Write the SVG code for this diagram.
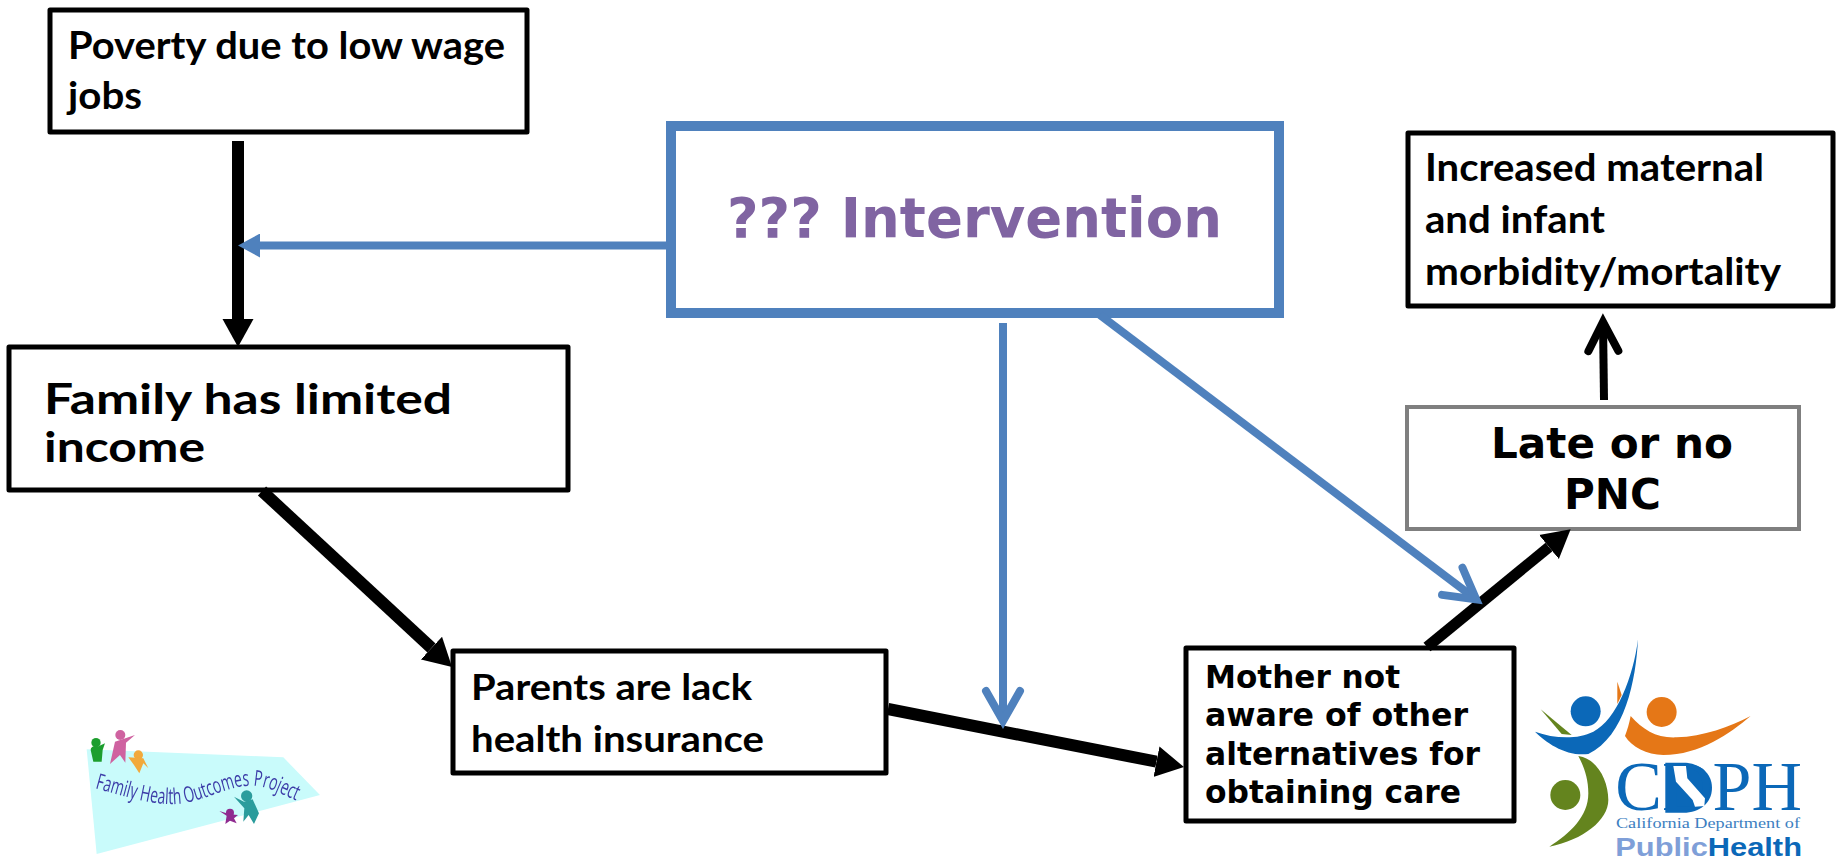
<svg xmlns="http://www.w3.org/2000/svg" width="1843" height="862" viewBox="0 0 1843 862">
<style>
.box{fill:#fff;stroke:#000;stroke-width:5;stroke-linejoin:round}
.cal{font-family:"Lato","Carlito","Open Sans",sans-serif;font-weight:700;fill:#000}
.dj{font-family:"DejaVu Sans",sans-serif;font-weight:700;fill:#000}
.bk{fill:none;stroke:#000;stroke-width:12}
.bl{fill:none;stroke:#4f81bd;stroke-width:8}
</style>
<defs>
<marker id="hk" markerUnits="userSpaceOnUse" markerWidth="29" markerHeight="32" viewBox="0 0 29 32" refX="0" refY="16" orient="auto"><path d="M0 0.5L28 16L0 31.5Z" fill="#000"/></marker>
<marker id="hb" markerUnits="userSpaceOnUse" markerWidth="23" markerHeight="24" viewBox="0 0 23 24" refX="0" refY="12" orient="auto"><path d="M0 0L22 12L0 24Z" fill="#4f81bd"/></marker>
<marker id="ob" markerUnits="userSpaceOnUse" markerWidth="44" markerHeight="48" viewBox="-36 -24 44 48" refX="0" refY="0" orient="auto"><path d="M-31 -17L-1 0L-31 17" fill="none" stroke="#4f81bd" stroke-width="8" stroke-linecap="round"/></marker>
<marker id="ok" markerUnits="userSpaceOnUse" markerWidth="46" markerHeight="44" viewBox="-36 -22 46 44" refX="0" refY="0" orient="auto"><path d="M-29 -15L0 0L-29 15" fill="none" stroke="#000" stroke-width="8" stroke-linecap="round"/></marker>
<filter id="soft"><feGaussianBlur stdDeviation="0.6"/></filter>
</defs>

<g id="node-poverty"><rect class="box" x="50" y="10" width="477" height="122" stroke-width="4"/>
<text class="cal" x="68" y="59" font-size="38" textLength="437" lengthAdjust="spacingAndGlyphs">Poverty due to low wage</text>
<text class="cal" x="68" y="109" font-size="38" textLength="74" lengthAdjust="spacingAndGlyphs">jobs</text></g>

<g id="node-family"><rect class="box" x="9" y="347" width="559" height="143"/>
<text class="cal" x="44" y="414" font-size="42" textLength="408" lengthAdjust="spacingAndGlyphs">Family has limited</text>
<text class="cal" x="44" y="462" font-size="42" textLength="161" lengthAdjust="spacingAndGlyphs">income</text></g>

<g id="node-intervention"><rect x="671" y="126" width="608" height="187" fill="#fff" stroke="#4f81bd" stroke-width="10"/>
<text class="dj" x="727" y="237" font-size="56" style="fill:#8064a2" textLength="495" lengthAdjust="spacingAndGlyphs">??? Intervention</text></g>

<g id="node-increased"><rect class="box" x="1408" y="133" width="425" height="173"/>
<text class="cal" x="1425" y="181" font-size="38" textLength="339" lengthAdjust="spacingAndGlyphs">Increased maternal</text>
<text class="cal" x="1425" y="233" font-size="38" textLength="180" lengthAdjust="spacingAndGlyphs">and infant</text>
<text class="cal" x="1425" y="285" font-size="38" textLength="356" lengthAdjust="spacingAndGlyphs">morbidity/mortality</text></g>

<g id="node-late"><rect x="1407" y="407" width="392" height="122" fill="#fff" stroke="#7f7f7f" stroke-width="4"/>
<text class="dj" x="1491" y="458" font-size="42" textLength="242" lengthAdjust="spacingAndGlyphs">Late or no</text>
<text class="dj" x="1564" y="509" font-size="42" textLength="97" lengthAdjust="spacingAndGlyphs">PNC</text></g>

<g id="node-parents"><rect class="box" x="453" y="651" width="433" height="122"/>
<text class="cal" x="471" y="700" font-size="37" textLength="281" lengthAdjust="spacingAndGlyphs">Parents are lack</text>
<text class="cal" x="471" y="752" font-size="37" textLength="293" lengthAdjust="spacingAndGlyphs">health insurance</text></g>

<g id="node-mother"><rect class="box" x="1186" y="648" width="328" height="173"/>
<text class="dj" x="1205" y="688" font-size="32" textLength="195" lengthAdjust="spacingAndGlyphs">Mother not</text>
<text class="dj" x="1205" y="726" font-size="32" textLength="263" lengthAdjust="spacingAndGlyphs">aware of other</text>
<text class="dj" x="1205" y="765" font-size="32" textLength="275" lengthAdjust="spacingAndGlyphs">alternatives for</text>
<text class="dj" x="1205" y="803" font-size="32" textLength="256" lengthAdjust="spacingAndGlyphs">obtaining care</text></g>

<g id="connectors">
<path class="bk" d="M238 141V319" marker-end="url(#hk)"/>
<path class="bk" d="M262 491L431.5 648" marker-end="url(#hk)"/>
<path class="bk" d="M888 709L1156.5 761.7" marker-end="url(#hk)"/>
<path class="bk" style="stroke-width:11" d="M1427 647L1549 547" marker-end="url(#hk)"/>
<path class="bk" style="stroke-width:8" d="M1604 400L1603 322" marker-end="url(#ok)"/>
<path class="bl" d="M666 245.500H260" marker-end="url(#hb)"/>
<path class="bl" d="M1003 323V722" marker-end="url(#ob)"/>
<path class="bl" d="M1100 315L1477 600" marker-end="url(#ob)"/>
</g>

<g id="logo-fhop" transform="translate(60 700) scale(0.3333)" filter="url(#soft)">
<path d="M80 148L670 172L780 285L110 462Z" fill="#c9fbfb"/>
<g fill="#1f9e2f"><circle cx="108" cy="128" r="14"/><path d="M92 150C92 140 105 135 112 140L135 130L128 150L125 185H100Z"/></g>
<g fill="#cf62a0"><circle cx="181" cy="105" r="15"/><path d="M150 192L165 125L225 105L198 128L196 188L180 165Z"/></g>
<g fill="#f2a93a"><circle cx="235" cy="165" r="14"/><path d="M205 172L250 175L265 205L250 190L238 220L222 195Z"/></g>
<g fill="#2c9c9c"><circle cx="560" cy="288" r="17"/><path d="M522 290L552 305L578 298L597 340L582 372L566 345L550 365L553 325Z"/></g>
<g fill="#8f2a90"><circle cx="510" cy="338" r="12"/><path d="M478 333L510 343L534 345L522 355L530 370L510 362L496 372L500 347Z"/></g>
<path id="fhopPath" d="M105 265C200 290 300 325 380 308C450 295 520 250 590 258C630 262 670 285 705 300" fill="none"/>
<text font-family="'Open Sans',sans-serif" font-size="66" fill="#3c3ca8"><textPath href="#fhopPath" textLength="625" lengthAdjust="spacingAndGlyphs">Family Health Outcomes Project</textPath></text>
</g>

<g id="logo-cdph" transform="translate(1510 630) scale(0.3333)">
<path d="M92 238L185 315L155 312Z" fill="#64841e"/>
<path d="M205 378C260 385 295 450 295 510C295 570 220 630 118 650C180 610 235 560 235 490C235 445 222 410 205 378Z" fill="#64841e"/>
<circle cx="166" cy="495" r="45" fill="#64841e"/>
<path d="M322 155L335 195L322 222Z" fill="#e57717"/>
<path d="M362 258C400 300 440 325 500 322C580 320 660 290 722 258C660 310 570 375 460 375C410 375 365 350 345 318C352 300 358 280 362 258Z" fill="#e57717"/>
<circle cx="455" cy="246" r="45" fill="#e57717"/>
<path d="M384 28C378 150 345 320 235 372C170 380 110 340 75 305C130 325 200 330 250 305C320 270 370 140 384 28Z" fill="#0b68b8"/>
<circle cx="227" cy="244" r="45" fill="#0b68b8"/>
<path d="M466 398H520C570 398 606 430 606 473C606 518 570 548 520 548H466Z" fill="#0b68b8"/>
<text x="316" y="540" font-family="'Liberation Serif',serif" font-size="210" fill="#0b68b8" textLength="560" lengthAdjust="spacingAndGlyphs">CDPH</text>
<path d="M490 408L528 408L532 445L585 505L583 528L555 530L548 510L498 455Z" fill="#fff"/>
<text x="318" y="594" font-family="'Liberation Serif',serif" font-size="46" fill="#3d7fc1" textLength="552" lengthAdjust="spacingAndGlyphs">California Department of</text>
<text x="316" y="678" font-family="'Liberation Sans',sans-serif" font-weight="700" font-size="76" fill="#7f9fd8" textLength="560" lengthAdjust="spacingAndGlyphs">Public<tspan fill="#0b68b8">Health</tspan></text>
</g>
</svg>
